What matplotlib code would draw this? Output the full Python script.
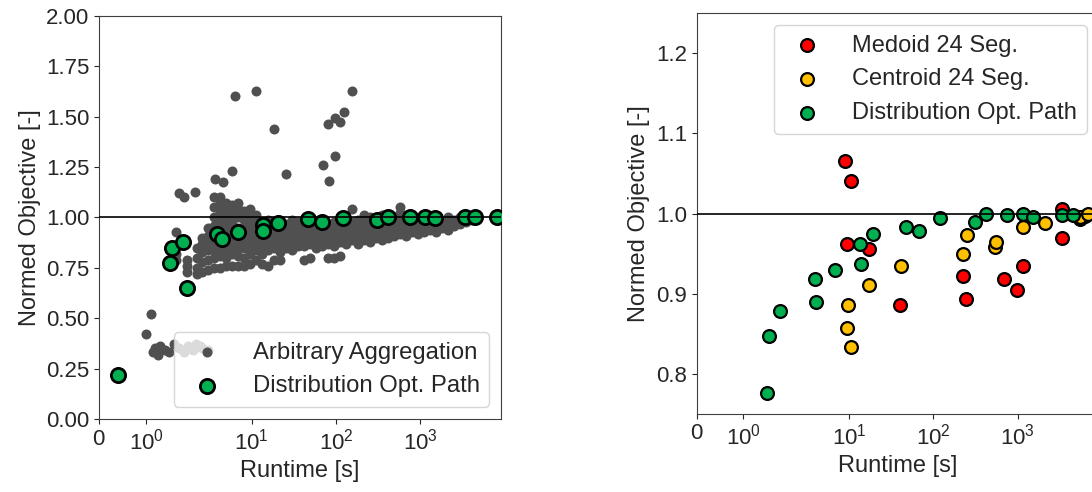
import numpy as np
import matplotlib
matplotlib.use("Agg")
from matplotlib import pyplot as plt
from matplotlib.ticker import NullLocator

plt.rcParams['font.family'] = ['Liberation Sans', 'DejaVu Sans']
plt.rcParams['mathtext.fontset'] = 'custom'
plt.rcParams['mathtext.rm'] = 'Liberation Sans'
plt.rcParams['mathtext.it'] = 'Liberation Sans:italic'
plt.rcParams['mathtext.bf'] = 'Liberation Sans:bold'
plt.rcParams['text.color'] = '#262626'
plt.rcParams['axes.labelcolor'] = '#262626'
plt.rcParams['xtick.color'] = '#262626'
plt.rcParams['ytick.color'] = '#262626'
plt.rcParams['axes.edgecolor'] = '#404040'

# ---- left panel: arbitrary aggregations (gray cloud) ----
# outliers / sparse points
agg_x_sparse = [6.3, 11.3, 154, 125, 98, 112, 80, 18.4, 98, 70.8, 25.6, 83.5, 5.8, 3.7, 4.6,
                1.71, 1.82, 2.12,
                1.0, 1.1, 1.15, 1.2, 1.25, 1.3, 1.4, 1.5, 1.6, 1.7, 1.8, 1.9, 2.0, 2.2, 2.4, 2.6, 3.0]
agg_y_sparse = [1.603, 1.629, 1.629, 1.522, 1.492, 1.472, 1.462, 1.438, 1.305, 1.26, 1.216, 1.181, 1.232, 1.19, 1.178,
                1.123, 1.103, 1.128,
                0.42, 0.52, 0.33, 0.35, 0.32, 0.36, 0.34, 0.33, 0.37, 0.35, 0.33, 0.36, 0.34, 0.37, 0.36, 0.35, 0.34]

# dense cloud, read column by column (runtime, objectives)
agg_cols_x = [1.65, 1.87, 2.24, 2.6, 3.0, 3.6, 4.2, 4.9, 5.8, 6.9, 8.1, 9.55, 11.3, 13.3, 15.6,
              18.4, 21.7, 25.6, 30, 35.5, 42, 49, 58, 69, 81, 95, 112, 132, 156, 183, 216,
              254, 300, 353, 415, 490, 577, 680, 800, 940, 1110, 1310, 1540, 1810, 2130,
              2510, 2976, 3500, 4120]
agg_cols_y = [
    [0.79, 0.82, 0.93],
    [0.73, 0.76, 0.79],
    [0.72, 0.75, 0.80, 0.85],
    [0.73, 0.78, 0.83, 0.87, 0.90],
    [0.74, 0.79, 0.84, 0.88, 0.91, 0.95],
    [0.75, 0.80, 0.84, 0.88, 0.92, 0.96, 1.00, 1.05, 1.10],
    [0.75, 0.81, 0.85, 0.88, 0.91, 0.95, 0.99, 1.03, 1.07, 1.10],
    [0.76, 0.80, 0.84, 0.87, 0.90, 0.93, 0.96, 1.00, 1.03, 1.07],
    [0.76, 0.82, 0.86, 0.89, 0.92, 0.95, 0.98, 1.02, 1.06],
    [0.76, 0.81, 0.85, 0.88, 0.91, 0.95, 1.00, 1.04, 1.07],
    [0.76, 0.80, 0.85, 0.89, 0.92, 0.95, 0.99, 1.03],
    [0.77, 0.82, 0.86, 0.90, 0.93, 0.96, 1.00, 1.04],
    [0.79, 0.84, 0.88, 0.91, 0.94, 0.97, 1.01],
    [0.77, 0.82, 0.86, 0.89, 0.92, 0.95, 0.98],
    [0.76, 0.84, 0.87, 0.90, 0.93, 0.96, 0.99],
    [0.79, 0.85, 0.88, 0.91, 0.94, 0.97],
    [0.79, 0.83, 0.87, 0.90, 0.93, 0.96, 0.99],
    [0.85, 0.88, 0.91, 0.94, 0.97],
    [0.84, 0.87, 0.90, 0.93, 0.96, 0.99],
    [0.86, 0.89, 0.92, 0.95, 0.98],
    [0.79, 0.86, 0.89, 0.92, 0.95, 0.97],
    [0.80, 0.87, 0.90, 0.93, 0.96, 0.99],
    [0.85, 0.88, 0.91, 0.94, 0.97],
    [0.86, 0.89, 0.92, 0.95, 0.98],
    [0.80, 0.87, 0.90, 0.93, 0.96],
    [0.80, 0.86, 0.89, 0.92, 0.95, 0.98],
    [0.81, 0.88, 0.91, 0.94, 0.97, 1.00],
    [0.87, 0.90, 0.93, 0.96, 0.99],
    [0.89, 0.92, 0.95, 0.98, 1.04],
    [0.87, 0.90, 0.93, 0.96, 0.99],
    [0.89, 0.92, 0.95, 0.98, 1.01],
    [0.88, 0.91, 0.94, 0.97, 1.00],
    [0.90, 0.93, 0.96, 0.99],
    [0.89, 0.92, 0.95, 0.98, 1.01],
    [0.90, 0.93, 0.96, 0.99],
    [0.91, 0.94, 0.97, 1.00],
    [0.92, 0.95, 0.98, 1.02, 1.05],
    [0.91, 0.94, 0.97, 1.00],
    [0.93, 0.96, 0.99],
    [0.92, 0.95, 0.98],
    [0.93, 0.96, 0.99],
    [0.94, 0.97, 1.00],
    [0.93, 0.96, 0.99],
    [0.95, 0.98],
    [0.94, 0.97, 1.00],
    [0.96, 0.99],
    [0.97, 1.00],
    [0.98],
    [0.99],
]

# distribution optimal path, left panel
dop_left_x = [0.41, 1.51, 1.55, 1.78, 1.87, 3.84, 4.44, 6.92, 13.7, 13.5, 20.3, 47, 69, 120,
              305, 412, 758, 1143, 1502, 3416, 4490, 8200]
dop_left_y = [0.217, 0.773, 0.849, 0.876, 0.649, 0.920, 0.892, 0.930, 0.961, 0.935, 0.974, 0.991,
              0.980, 0.996, 0.988, 1.001, 1.000, 1.000, 0.996, 1.000, 1.000, 1.000]

# ---- right panel ----
medoid_x = [8.94, 10.45, 9.37, 17.4, 40.2, 227, 245, 697, 995, 1153, 3377, 3370, 5500, 6300]
medoid_y = [1.066, 1.041, 0.962, 0.956, 0.886, 0.922, 0.893, 0.918, 0.905, 0.934, 0.969, 1.006, 0.993, 0.997]

centroid_x = [9.77, 9.37, 10.45, 17.4, 41.2, 227, 250, 541, 560, 1160, 2120, 5530, 6900]
centroid_y = [0.886, 0.857, 0.833, 0.911, 0.934, 0.949, 0.973, 0.958, 0.965, 0.983, 0.988, 0.996, 1.000]

dop_right_x = [1.50, 1.55, 1.77, 3.94, 4.03, 6.8, 13.7, 13.3, 19.4, 47.5, 68.2, 120, 313, 423,
               745, 1153, 1514, 3400, 4520]
dop_right_y = [0.776, 0.847, 0.878, 0.918, 0.889, 0.929, 0.937, 0.962, 0.974, 0.983, 0.978, 0.994,
               0.990, 0.999, 0.998, 1.000, 0.996, 0.998, 0.998]

GRAY = '#505050'
GREEN = '#00B050'
RED = '#FF0000'
YELLOW = '#FFC000'

agg_x = list(agg_x_sparse)
agg_y = list(agg_y_sparse)
for cx, ys in zip(agg_cols_x, agg_cols_y):
    agg_x += [cx] * len(ys)
    agg_y += ys

fig = plt.figure(figsize=(10.92, 4.92), dpi=100)
ax1 = fig.add_axes([0.0909, 0.1484, 0.3679, 0.8191])
ax2 = fig.add_axes([0.638, 0.1591, 0.3679, 0.8138])

ax1.scatter(agg_x, agg_y, s=52, color=GRAY, linewidths=0, label='Arbitrary Aggregation', zorder=2)
ax1.scatter(dop_left_x, dop_left_y, s=105, color=GREEN, edgecolors='black', linewidths=2,
            label='Distribution Opt. Path', zorder=3)
ax1.axhline(1.0, color='black', lw=1.2, zorder=4)
ax1.set_ylim(0, 2)
ax1.set_yticks(np.arange(0, 2.01, 0.25))

ax2.scatter(medoid_x, medoid_y, s=85, color=RED, edgecolors='black', linewidths=1.6,
            label='Medoid 24 Seg.', zorder=3)
ax2.scatter(centroid_x, centroid_y, s=85, color=YELLOW, edgecolors='black', linewidths=1.6,
            label='Centroid 24 Seg.', zorder=3)
ax2.scatter(dop_right_x, dop_right_y, s=85, color=GREEN, edgecolors='black', linewidths=1.6,
            label='Distribution Opt. Path', zorder=3)
ax2.axhline(1.0, color='black', lw=1.2, zorder=4)
ax2.set_ylim(0.75, 1.25)
ax2.set_yticks([0.8, 0.9, 1.0, 1.1, 1.2])

for ax in (ax1, ax2):
    ax.set_xscale('symlog', linthresh=2)
    ax.set_xlim(0, 9100)
    ax.set_xticks([0, 1, 10, 100, 1000])
    ax.xaxis.set_minor_locator(NullLocator())
    ax.tick_params(labelsize=16)
    ax.set_xlabel('Runtime [s]', fontsize=17)
    ax.set_ylabel('Normed Objective [-]', fontsize=17)

ax1.legend(loc='lower right', fontsize=17.2, handletextpad=0.9)
ax2.legend(loc='upper right', fontsize=17, handletextpad=0.9)

fig.savefig('out.png', dpi=100)
